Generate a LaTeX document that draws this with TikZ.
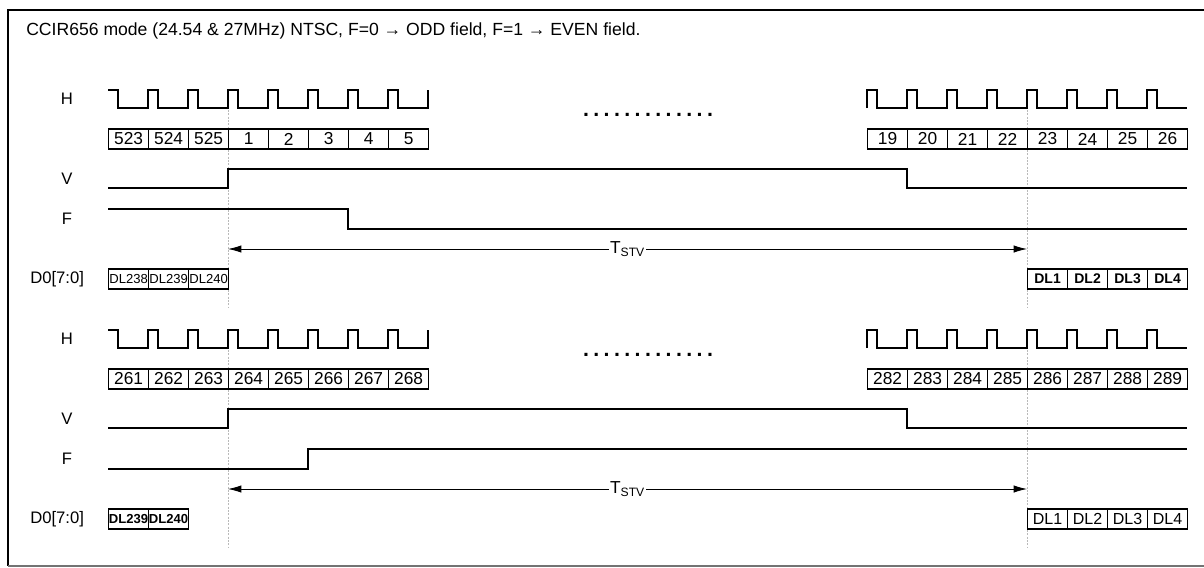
\documentclass[tikz,border=0pt]{standalone}
\usepackage{fontspec}
\setmainfont{Liberation Sans}
\usetikzlibrary{arrows.meta}
\newcommand\gapdot{.\kern3.3pt}
\tikzset{
  wave/.style={line width=1pt},
  guide/.style={gray!55, line width=0.4pt, dash pattern=on 1.5pt off 1pt},
  sig/.style={inner sep=0pt, font=\fontsize{12.5}{14}\selectfont},
  cell/.style={draw, line width=0.9pt, anchor=west, minimum width=30pt, minimum height=15pt, inner sep=0pt, fill=white, font=\fontsize{13}{15}\selectfont},
  dlcell/.style={cell, font=\fontsize{9.8}{11}\selectfont},
  dlbold/.style={cell, font=\fontsize{10.5}{12}\selectfont\bfseries},
  tstv/.style={{Latex[length=10pt,width=5.5pt]}-{Latex[length=10pt,width=5.5pt]}, line width=0.6pt}
}
\begin{document}
\begin{tikzpicture}[x=0.75pt,y=-0.75pt]
\useasboundingbox (0,0) rectangle (1204,568);
% frame
\draw[line width=1.6pt] (1214,10) -- (8,10) -- (8,566);
\draw[line width=0.8pt, black!55] (8,566) -- (1214,566);
\node[inner sep=0pt, anchor=west, font=\fontsize{13.2}{15}\selectfont] (title) at (26,31)
  {CCIR656 mode (24.54 \& 27MHz) NTSC, F=0 → ODD field, F=1 → EVEN field.};

% parts that both fields share
\foreach \off in {0,240} {
  \draw[guide] (228,{110+\off}) -- (228,{308+\off});
  \draw[guide] (1027,{110+\off}) -- (1027,{308+\off});
  \node[sig] (h\off) at (67,{99+\off}) {H};
  \node[sig] (v\off) at (67,{179+\off}) {V};
  \node[sig] (f\off) at (67,{219+\off}) {F};
  \node[sig, anchor=west] (d\off) at (30,{279+\off}) {D0[7:0]};
  % H before the gap
  \draw[wave] (108,{90+\off}) -- (118,{90+\off}) -- (118,{108+\off})
    \foreach \k in {1,...,7} { -- ({108+40*\k},{108+\off}) -- ({108+40*\k},{90+\off})
      -- ({118+40*\k},{90+\off}) -- ({118+40*\k},{108+\off}) }
    -- (428,{108+\off}) -- (428,{90+\off});
  % H after the gap
  \draw[wave] (867,{108+\off}) -- (867,{90+\off}) -- (877,{90+\off}) -- (877,{108+\off})
    \foreach \k in {1,...,7} { -- ({867+40*\k},{108+\off}) -- ({867+40*\k},{90+\off})
      -- ({877+40*\k},{90+\off}) -- ({877+40*\k},{108+\off}) }
    -- (1187,{108+\off});
  \node[inner sep=0pt, font=\fontsize{16}{18}\selectfont\bfseries] (dots\off) at (648,{115+\off})
    {\gapdot\gapdot\gapdot\gapdot\gapdot\gapdot\gapdot\gapdot\gapdot\gapdot\gapdot\gapdot.};
  % V
  \draw[wave] (108,{188+\off}) -- (228,{188+\off}) -- (228,{169+\off})
    -- (907,{169+\off}) -- (907,{188+\off}) -- (1187,{188+\off});
  % T_STV
  \coordinate (ts\off) at (228,{249+\off});
  \coordinate (te\off) at (1027,{249+\off});
  \draw[tstv] (ts\off) -- node[fill=white, inner sep=0.5pt, font=\fontsize{13}{15}\selectfont]
    {T\textsubscript{STV}} (te\off);
}

% odd field
\foreach \n [count=\i from 0] in {523,524,525,1,2,3,4,5}
  \node[cell] (a\i) at ({108+40*\i},139) {\n};
\foreach \n [count=\i from 0] in {19,20,21,22,23,24,25,26}
  \node[cell] (b\i) at ({867+40*\i},139) {\n};
\draw[wave] (108,209) -- (348,209) -- (348,229) -- (1187,229);
\foreach \n [count=\i from 0] in {238,239,240}
  \node[dlcell] (p\i) at ({108+40*\i},279) {DL\n};
\foreach \n [count=\i from 0] in {1,2,3,4}
  \node[dlbold] (q\i) at ({1027+40*\i},279) {DL\n};

% even field
\foreach \n [count=\i from 0] in {261,262,263,264,265,266,267,268}
  \node[cell] (c\i) at ({108+40*\i},379) {\n};
\foreach \n [count=\i from 0] in {282,283,284,285,286,287,288,289}
  \node[cell] (e\i) at ({867+40*\i},379) {\n};
\draw[wave] (108,469) -- (308,469) -- (308,449) -- (1187,449);
\foreach \n [count=\i from 0] in {239,240}
  \node[dlbold, font=\fontsize{9.8}{11}\selectfont\bfseries] (r\i) at ({108+40*\i},519) {DL\n};
\foreach \n [count=\i from 0] in {1,2,3,4}
  \node[cell, font=\fontsize{12}{14}\selectfont] (s\i) at ({1027+40*\i},519) {DL\n};
\end{tikzpicture}
\end{document}
